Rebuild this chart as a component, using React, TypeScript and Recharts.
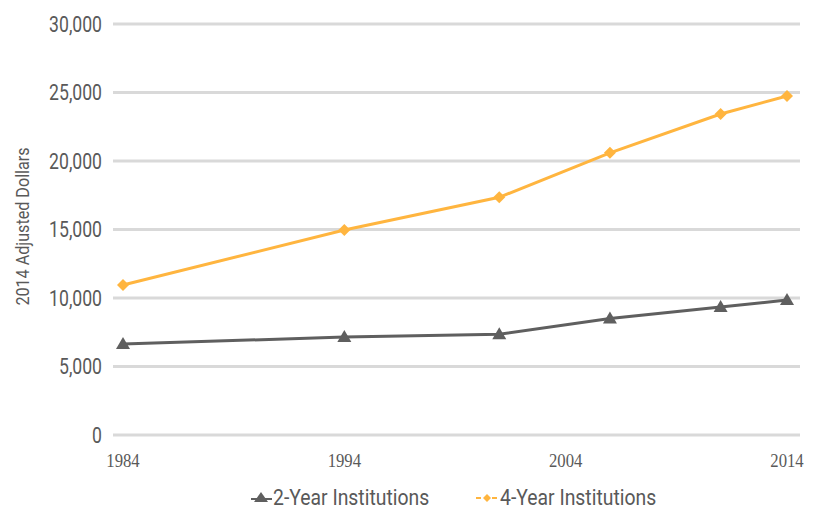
import React from "react";
import { LineChart, Line, XAxis, YAxis, CartesianGrid, Legend } from "recharts";

const years = [1984, 1994, 2001, 2006, 2011, 2014];
const twoYear = [6640, 7150, 7350, 8500, 9350, 9850];
const fourYear = [10950, 14960, 17350, 20600, 23430, 24740];
const xTicks = [1984, 1994, 2004, 2014];
const yTicks = [0, 5000, 10000, 15000, 20000, 25000, 30000];

const data = years.map((year, i) => ({
  year,
  two: twoYear[i],
  four: fourYear[i],
}));

const GRAY = "#5f5f5f";
const ORANGE = "#ffb53f";
const TEXT = "#595959";
const SANS = "Roboto, 'DejaVu Sans Condensed', sans-serif";
const SERIF = "'Liberation Serif', 'DejaVu Serif', serif";

// condensed text: the original face is narrow, so squeeze a regular one
const YTick = (props: any) => {
  const { x, y, payload } = props;
  return (
    <g transform={`translate(${x},${y})`}>
      <text
        transform="scale(0.8,1)"
        textAnchor="end"
        dy="0.36em"
        fontSize={22}
        fontFamily={SANS}
        fill={TEXT}
      >
        {Number(payload.value).toLocaleString("en-US")}
      </text>
    </g>
  );
};

const XTick = (props: any) => {
  const { x, y, payload } = props;
  return (
    <g transform={`translate(${x},${y})`}>
      <text
        transform="scale(0.88,1)"
        textAnchor="middle"
        dy="0.71em"
        fontSize={19}
        fontFamily={SERIF}
        fill={TEXT}
      >
        {payload.value}
      </text>
    </g>
  );
};

const Triangle = (props: any) => {
  const { cx, cy, key } = props;
  if (cx == null || cy == null) return null;
  return (
    <polygon
      key={key}
      points={`${cx},${cy - 7} ${cx - 7},${cy + 5} ${cx + 7},${cy + 5}`}
      fill={GRAY}
    />
  );
};

const Diamond = (props: any) => {
  const { cx, cy, key } = props;
  if (cx == null || cy == null) return null;
  return (
    <polygon
      key={key}
      points={`${cx},${cy - 6} ${cx + 6},${cy} ${cx},${cy + 6} ${cx - 6},${cy}`}
      fill={ORANGE}
    />
  );
};

const legendText = (x: number, label: string) => (
  <g transform={`translate(${x},23)`}>
    <text
      transform="scale(0.88,1)"
      dy="0.36em"
      fontSize={22}
      fontFamily={SANS}
      fill={TEXT}
    >
      {label}
    </text>
  </g>
);

const LegendContent = () => (
  <svg width={819} height={36} style={{ display: "block" }}>
    <line x1={251} y1={25} x2={272} y2={25} stroke={GRAY} strokeWidth={2} />
    <polygon points="261,18 254,28 268,28" fill={GRAY} />
    {legendText(273, "2-Year Institutions")}
    <line x1={476} y1={24} x2={498} y2={24} stroke={ORANGE} strokeWidth={2} strokeDasharray="5 3" />
    <polygon points="487,20 491,24 487,28 483,24" fill={ORANGE} />
    {legendText(500, "4-Year Institutions")}
  </svg>
);

export default function App() {
  return (
    <div style={{ position: "absolute", left: 0, top: 0, width: 819, height: 510, background: "#fff" }}>
      <LineChart
        width={819}
        height={510}
        data={data}
        margin={{ top: 24, right: 19, left: 0, bottom: 0 }}
      >
        <CartesianGrid vertical={false} stroke="#d9d9d9" strokeWidth={3} />
        <XAxis
          dataKey="year"
          type="number"
          domain={[1984, 2014]}
          ticks={xTicks}
          padding={{ left: 10, right: 13 }}
          axisLine={false}
          tickLine={false}
          height={39}
          tickMargin={12}
          tick={<XTick />}
        />
        <YAxis
          domain={[0, 30000]}
          ticks={yTicks}
          width={113}
          axisLine={false}
          tickLine={false}
          tickMargin={5}
          tick={<YTick />}
          label={{
            content: (p: any) => {
              const vb = p.viewBox || {};
              const cy = vb.y + vb.height / 2 - 3;
              return (
                <g transform={`translate(22,${cy}) rotate(-90)`}>
                  <text
                    transform="scale(0.85,1)"
                    textAnchor="middle"
                    dy="0.36em"
                    fontSize={19}
                    fill={TEXT}
                    fontFamily={SANS}
                  >
                    2014 Adjusted Dollars
                  </text>
                </g>
              );
            },
          }}
        />
        <Legend verticalAlign="bottom" height={36} content={<LegendContent />} />
        <Line
          dataKey="two"
          name="2-Year Institutions"
          stroke={GRAY}
          strokeWidth={3}
          dot={Triangle}
          activeDot={false}
          isAnimationActive={false}
        />
        <Line
          dataKey="four"
          name="4-Year Institutions"
          stroke={ORANGE}
          strokeWidth={3}
          dot={Diamond}
          activeDot={false}
          isAnimationActive={false}
        />
      </LineChart>
    </div>
  );
}
